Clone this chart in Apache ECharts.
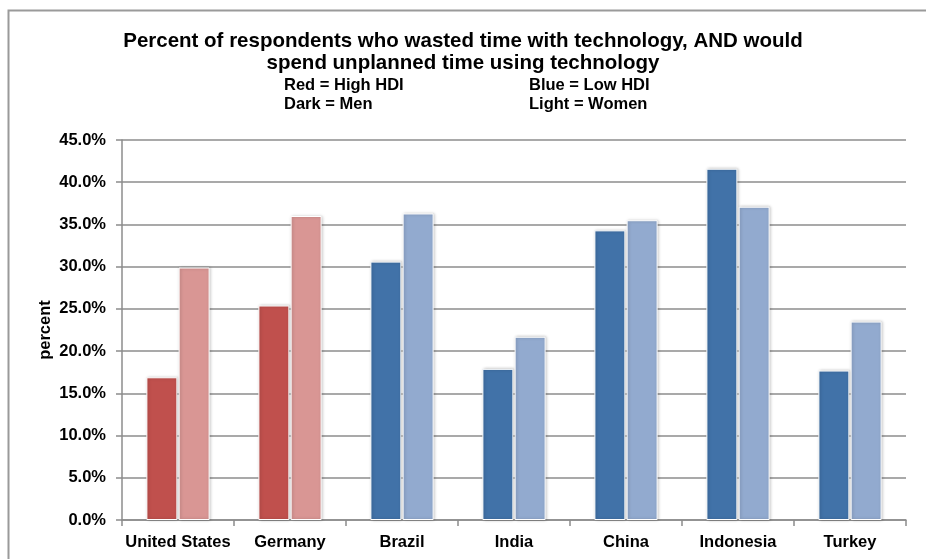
<!DOCTYPE html>
<html>
<head>
<meta charset="utf-8">
<script src="https://cdn.jsdelivr.net/npm/echarts@6/dist/echarts.min.js"></script>
<style>
  html, body { margin: 0; padding: 0; background: #fff; }
  #chart { width: 926px; height: 559px; }
</style>
</head>
<body>
<div id="chart"></div>
<script>
// Countries shown along the x axis
const countries = ['United States', 'Germany', 'Brazil', 'India', 'China', 'Indonesia', 'Turkey'];
// HDI group of each country (decides red vs blue)
const hdiGroup = ['high', 'high', 'low', 'low', 'low', 'low', 'low'];
// Share of respondents (percent), men and women
const menValues = [16.9, 25.4, 30.6, 17.9, 34.3, 41.6, 17.7];
const womenValues = [29.9, 36.0, 36.3, 21.7, 35.5, 37.1, 23.5];
// Y axis range and step
const yMin = 0, yMax = 45, yStep = 5;

const palette = {
  high: { men: '#C0504D', women: '#D99694' },
  low: { men: '#4172A8', women: '#92AACF' }
};

const fontFam = '"Liberation Sans", Arial, Helvetica, sans-serif';
const barStyle = {
  borderColor: '#ffffff',
  borderWidth: 1,
  shadowBlur: 3,
  shadowOffsetX: 1,
  shadowOffsetY: 0,
  shadowColor: 'rgba(0,0,0,0.25)'
};

function seriesData(values, who) {
  return values.map((v, i) => ({
    value: v,
    itemStyle: Object.assign({ color: palette[hdiGroup[i]][who] }, barStyle)
  }));
}

const chart = echarts.init(document.getElementById('chart'), null, { renderer: 'canvas' });
chart.setOption({
  backgroundColor: '#ffffff',
  animation: false,
  graphic: [
    {
      type: 'rect',
      left: 6, top: 8,
      shape: { width: 1000, height: 1000 },
      style: { fill: 'none', stroke: '#9a9a9a', lineWidth: 2 },
      silent: true
    },
    {
      type: 'text', left: 'center', top: 31,
      style: { text: 'Percent of respondents who wasted time with technology, AND would', font: 'bold 20.5px ' + fontFam, fill: '#000', textAlign: 'center' }
    },
    {
      type: 'text', left: 'center', top: 53,
      style: { text: 'spend unplanned time using technology', font: 'bold 20.5px ' + fontFam, fill: '#000', textAlign: 'center' }
    },
    { type: 'text', left: 284, top: 77, style: { text: 'Red = High HDI', font: 'bold 16.5px ' + fontFam, fill: '#000' } },
    { type: 'text', left: 529, top: 77, style: { text: 'Blue = Low HDI', font: 'bold 16.5px ' + fontFam, fill: '#000' } },
    { type: 'text', left: 284, top: 96, style: { text: 'Dark = Men', font: 'bold 16.5px ' + fontFam, fill: '#000' } },
    { type: 'text', left: 529, top: 96, style: { text: 'Light = Women', font: 'bold 16.5px ' + fontFam, fill: '#000' } }
  ],
  grid: { left: 122, right: 20, top: 140, bottom: 39, containLabel: false },
  xAxis: {
    type: 'category',
    data: countries,
    axisLine: { lineStyle: { color: '#8c8c8c', width: 1.5 } },
    axisTick: { show: true, length: 6, lineStyle: { color: '#8c8c8c', width: 1.5 } },
    axisLabel: { color: '#000', fontWeight: 'bold', fontSize: 16.5, fontFamily: fontFam, margin: 14, interval: 0 }
  },
  yAxis: {
    type: 'value',
    min: yMin, max: yMax, interval: yStep,
    name: 'percent',
    nameLocation: 'middle',
    nameGap: 68,
    nameMoveOverlap: false,
    nameRotate: 90,
    nameTextStyle: { color: '#000', fontWeight: 'bold', fontSize: 16.5, fontFamily: fontFam },
    axisLine: { show: true, lineStyle: { color: '#8c8c8c', width: 1.5 } },
    axisTick: { show: true, length: 6, lineStyle: { color: '#8c8c8c', width: 1.5 } },
    axisLabel: {
      color: '#000', fontWeight: 'bold', fontSize: 16.5, fontFamily: fontFam, margin: 16,
      formatter: v => v.toFixed(1) + '%'
    },
    splitLine: { show: true, lineStyle: { color: '#8c8c8c', width: 1.5 } }
  },
  series: [
    {
      name: 'Men', type: 'bar',
      data: seriesData(menValues, 'men'),
      barWidth: 31, barGap: '4%'
    },
    {
      name: 'Women', type: 'bar',
      data: seriesData(womenValues, 'women'),
      barWidth: 31, barGap: '4%'
    }
  ]
});
</script>
</body>
</html>
